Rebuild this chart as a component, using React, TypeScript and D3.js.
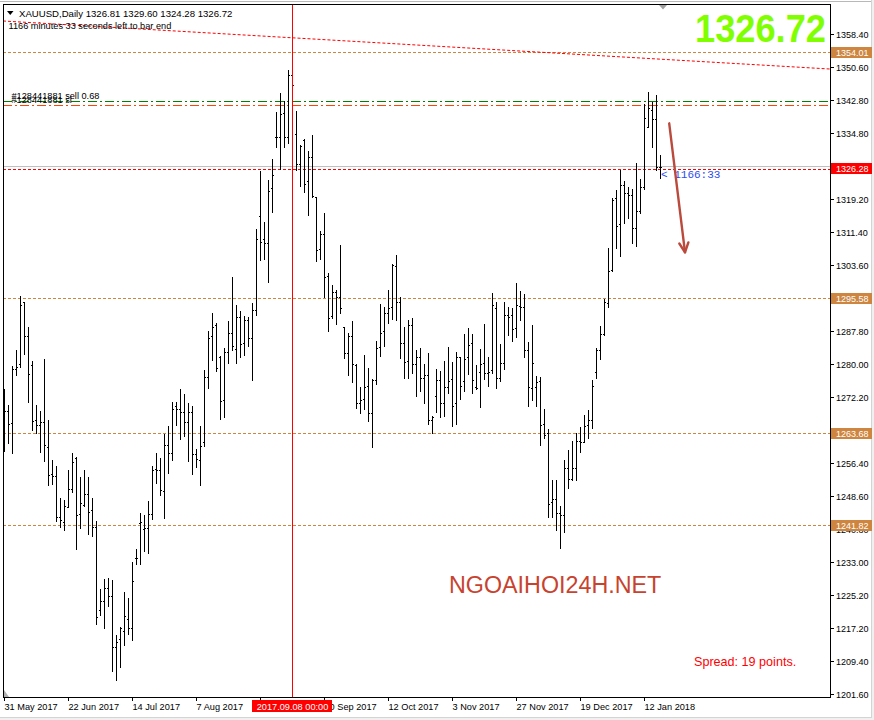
import React from 'react';
import * as d3 from 'd3';

// ---- Daily XAUUSD bars (index 0 = 31 May 2017) ----
const OPEN = [
  1264.71, 1268.75, 1265.98, 1278.73, 1279.92, 1294.65, 1286.57, 1279.76, 1266.69, 1265.43,
  1266.30, 1260.20, 1253.79, 1253.47, 1243.57, 1242.54, 1246.02, 1250.30, 1257.66, 1244.28,
  1246.50, 1249.03, 1245.31, 1241.35, 1221.47, 1223.69, 1226.70, 1224.88, 1212.83, 1214.57,
  1216.63, 1219.33, 1217.19, 1233.82, 1242.14, 1240.79, 1240.95, 1244.27, 1255.05, 1254.89,
  1249.82, 1260.67, 1258.77, 1270.01, 1269.30, 1268.51, 1266.13, 1268.51, 1258.53, 1257.10,
  1261.38, 1276.98, 1286.65, 1289.26, 1281.58, 1271.44, 1282.76, 1287.43, 1283.47, 1291.08,
  1284.90, 1290.45, 1286.17, 1292.82, 1315.16, 1309.61, 1308.66, 1321.80, 1334.00, 1334.00,
  1339.70, 1334.00, 1348.66, 1334.64, 1327.43, 1333.21, 1323.47, 1329.25, 1319.59, 1307.24,
  1310.88, 1300.90, 1291.50, 1297.18, 1296.00, 1288.71, 1282.53, 1286.57, 1279.76, 1270.65,
  1271.60, 1274.85, 1268.28, 1276.20, 1283.96, 1287.92, 1292.04, 1293.62, 1303.28, 1294.81,
  1284.91, 1280.79, 1289.26, 1280.00, 1281.74, 1276.59, 1277.38, 1266.69, 1272.39, 1276.20,
  1270.65, 1274.45, 1276.43, 1270.65, 1281.58, 1275.88, 1281.58, 1284.99, 1274.53, 1278.01,
  1280.15, 1277.78, 1278.57, 1293.22, 1276.59, 1280.15, 1291.64, 1291.64, 1288.47, 1293.78,
  1293.62, 1283.32, 1274.21, 1274.45, 1275.96, 1265.74, 1263.52, 1247.13, 1247.84, 1244.51,
  1244.11, 1255.20, 1252.59, 1255.20, 1261.70, 1261.54, 1265.42, 1266.69, 1278.17, 1283.32,
  1287.04, 1294.57, 1302.33, 1319.51, 1313.26, 1322.52, 1320.54, 1320.15, 1312.38, 1316.34,
  1321.97, 1336.38, 1340.34, 1338.12, 1326.81,
];
const HIGH = [
  1274.06, 1270.26, 1279.52, 1283.33, 1296.16, 1294.81, 1288.71, 1280.71, 1270.26, 1268.83,
  1281.19, 1266.69, 1257.19, 1255.76, 1248.24, 1247.69, 1254.81, 1258.85, 1257.90, 1253.15,
  1254.81, 1253.15, 1248.24, 1242.70, 1226.54, 1228.92, 1229.15, 1228.68, 1215.60, 1217.43,
  1225.74, 1224.40, 1232.95, 1236.04, 1244.51, 1244.04, 1247.44, 1255.76, 1258.77, 1257.66,
  1263.36, 1265.26, 1270.96, 1270.96, 1274.05, 1272.79, 1270.65, 1269.94, 1259.80, 1265.26,
  1278.57, 1287.76, 1292.03, 1289.81, 1281.89, 1283.80, 1290.21, 1300.66, 1294.01, 1292.66,
  1291.39, 1291.24, 1294.40, 1311.99, 1325.85, 1313.65, 1323.71, 1328.70, 1339.94, 1344.30,
  1342.48, 1349.84, 1349.40, 1340.18, 1331.95, 1333.37, 1330.60, 1334.40, 1319.75, 1311.59,
  1315.79, 1301.69, 1298.76, 1297.58, 1308.30, 1288.87, 1287.28, 1290.21, 1280.00, 1274.61,
  1282.14, 1279.13, 1276.35, 1285.46, 1294.25, 1293.62, 1297.58, 1303.76, 1305.90, 1296.00,
  1288.87, 1290.45, 1290.85, 1283.32, 1283.72, 1279.92, 1282.53, 1267.72, 1278.73, 1278.33,
  1280.79, 1284.03, 1280.47, 1282.85, 1281.58, 1287.12, 1288.47, 1287.12, 1279.76, 1283.56,
  1289.50, 1281.58, 1296.86, 1294.73, 1284.75, 1294.65, 1293.54, 1293.30, 1299.24, 1297.34,
  1296.63, 1285.22, 1289.26, 1277.14, 1276.99, 1269.38, 1264.55, 1252.43, 1252.43, 1246.25,
  1257.18, 1259.56, 1261.78, 1263.68, 1265.10, 1267.87, 1269.06, 1276.19, 1283.87, 1289.02,
  1295.36, 1307.63, 1319.35, 1321.33, 1326.09, 1323.55, 1321.97, 1321.57, 1327.67, 1323.87,
  1341.77, 1344.54, 1342.32, 1343.91, 1329.60,
];
const LOW = [
  1259.41, 1261.31, 1258.93, 1277.47, 1279.37, 1282.45, 1271.05, 1264.32, 1263.61, 1259.17,
  1257.03, 1251.33, 1251.57, 1242.77, 1241.19, 1240.64, 1245.94, 1249.67, 1235.96, 1241.11,
  1246.34, 1239.69, 1239.05, 1218.30, 1220.44, 1217.19, 1222.42, 1207.13, 1204.83, 1208.08,
  1213.31, 1215.84, 1214.42, 1232.55, 1232.55, 1235.64, 1235.17, 1243.25, 1251.80, 1248.87,
  1243.40, 1254.17, 1257.18, 1265.58, 1262.25, 1262.81, 1256.95, 1253.94, 1255.60, 1251.32,
  1260.59, 1274.37, 1280.94, 1278.41, 1267.00, 1267.48, 1280.31, 1283.32, 1280.31, 1281.73,
  1282.13, 1284.27, 1276.19, 1291.63, 1304.70, 1304.86, 1299.55, 1316.18, 1331.63, 1326.32,
  1331.47, 1332.42, 1341.00, 1326.08, 1322.36, 1320.78, 1315.39, 1319.75, 1304.46, 1305.02,
  1295.83, 1287.91, 1290.99, 1289.42, 1292.04, 1281.34, 1277.38, 1275.80, 1269.46, 1268.28,
  1269.31, 1266.53, 1260.36, 1275.25, 1281.98, 1284.35, 1289.66, 1290.69, 1290.37, 1281.34,
  1276.75, 1276.59, 1277.78, 1272.47, 1273.58, 1270.81, 1265.66, 1263.68, 1268.51, 1267.48,
  1267.72, 1273.18, 1265.34, 1265.82, 1271.76, 1273.66, 1277.70, 1273.18, 1273.98, 1269.86,
  1276.51, 1274.85, 1277.94, 1274.37, 1275.96, 1278.89, 1286.96, 1285.54, 1286.49, 1290.53,
  1281.74, 1270.10, 1271.52, 1270.10, 1260.83, 1262.49, 1243.72, 1243.72, 1240.55, 1236.35,
  1240.16, 1250.45, 1252.43, 1252.43, 1259.16, 1261.38, 1262.49, 1264.86, 1276.75, 1281.26,
  1286.88, 1293.62, 1302.17, 1307.47, 1305.73, 1313.57, 1314.60, 1308.82, 1308.11, 1315.79,
  1321.49, 1336.38, 1331.63, 1326.09, 1324.28,
];
const CLOSE = [
  1268.75, 1265.66, 1278.73, 1279.37, 1293.94, 1286.57, 1277.55, 1266.46, 1265.43, 1266.30,
  1260.75, 1253.55, 1253.47, 1243.57, 1242.85, 1246.18, 1250.30, 1256.71, 1244.12, 1246.89,
  1249.03, 1244.84, 1241.35, 1219.89, 1223.69, 1226.70, 1224.88, 1212.76, 1213.86, 1217.19,
  1220.12, 1217.19, 1228.43, 1233.82, 1242.53, 1240.95, 1244.27, 1254.89, 1254.89, 1249.98,
  1260.67, 1258.85, 1269.30, 1269.30, 1268.51, 1266.29, 1268.51, 1258.53, 1257.34, 1260.51,
  1276.83, 1286.09, 1288.71, 1279.00, 1271.20, 1282.76, 1287.43, 1284.27, 1291.24, 1284.74,
  1290.45, 1286.17, 1292.82, 1309.60, 1309.05, 1308.66, 1321.09, 1324.82, 1334.00, 1339.39,
  1334.00, 1348.66, 1346.28, 1327.43, 1331.79, 1322.68, 1329.25, 1319.91, 1307.08, 1310.88,
  1300.58, 1291.00, 1297.20, 1296.00, 1293.38, 1282.53, 1286.57, 1280.00, 1270.65, 1271.44,
  1274.61, 1268.28, 1276.20, 1283.72, 1287.28, 1292.04, 1293.22, 1303.52, 1294.81, 1284.91,
  1280.55, 1289.26, 1280.00, 1281.74, 1276.59, 1277.38, 1266.69, 1267.48, 1276.20, 1270.81,
  1274.45, 1275.88, 1269.94, 1281.58, 1274.69, 1281.10, 1284.43, 1276.19, 1274.29, 1279.92,
  1277.78, 1278.09, 1294.01, 1276.59, 1280.15, 1291.64, 1291.08, 1288.31, 1294.01, 1293.54,
  1283.32, 1274.45, 1280.15, 1275.64, 1265.42, 1263.05, 1246.65, 1247.84, 1244.51, 1244.11,
  1255.20, 1252.59, 1255.20, 1261.70, 1261.54, 1265.26, 1266.69, 1274.76, 1283.32, 1287.04,
  1294.80, 1302.17, 1318.96, 1312.86, 1322.52, 1320.54, 1320.15, 1312.38, 1316.34, 1321.97,
  1338.36, 1340.74, 1338.12, 1326.72, 1326.72,
];

// ---- axis labels ----
const PRICE_TICKS = [
  1358.4, 1350.6, 1342.8, 1334.8, 1319.2, 1311.4, 1303.6, 1287.8, 1280.0, 1272.2,
  1256.4, 1248.6, 1240.8, 1233.0, 1225.2, 1217.2, 1209.4, 1201.6,
];
const DATE_BARS = [0, 16, 32, 48, 64, 80, 96, 112, 128, 144, 160];
const DATE_LABELS = [
  '31 May 2017', '22 Jun 2017', '14 Jul 2017', '7 Aug 2017', '29 Aug 2017', '20 Sep 2017',
  '12 Oct 2017', '3 Nov 2017', '27 Nov 2017', '19 Dec 2017', '12 Jan 2018',
];

// ---- levels & annotations ----
const LEVELS = [1354.01, 1295.58, 1263.68, 1241.82];
const SELL_PRICE = 1342.41;
const SL_PRICE = 1341.46;
const BID = 1326.72;
const ALERT_PRICE = 1326.28;
const MARK_BAR = 72;
const MARK_LABEL = '2017.09.08 00:00';
const TREND_BARS = [-0.25, 206.5];
const TREND_PRICES = [1361.49, 1350.08];
const ARROW_BARS = [166.3, 170.25];
const ARROW_PRICES = [1337.18, 1306.53];

const FONT = '"Liberation Sans", Arial, sans-serif';

export default function App() {
  const W = 874;
  const H = 720;
  const left = 3;
  const top = 4;
  const right = 830;
  const bottom = 697;

  const y = d3.scaleLinear().domain([1201.6, 1358.4]).range([694, 34]);
  const x = d3.scaleLinear().domain([0, 1]).range([4, 8]);
  const py = (v: number) => Math.round(y(v));

  const bars = OPEN.map((o, i) => {
    const px = x(i);
    const yh = py(HIGH[i]);
    const yl = py(LOW[i]);
    return (
      <g key={i}>
        <rect x={px} y={yh} width={1} height={Math.max(1, yl - yh + 1)} fill="#000" />
        <rect x={px - 1} y={py(o)} width={1} height={1} fill="#000" />
        <rect x={px + 1} y={py(CLOSE[i])} width={1} height={1} fill="#000" />
      </g>
    );
  });

  const trendLine = d3.line<number>()
    .x((_, i) => x(TREND_BARS[i]))
    .y((p) => y(p))(TREND_PRICES);

  // arrow geometry
  const ax0 = x(ARROW_BARS[0]), ay0 = y(ARROW_PRICES[0]);
  const ax1 = x(ARROW_BARS[1]), ay1 = y(ARROW_PRICES[1]);
  const ang = Math.atan2(ay1 - ay0, ax1 - ax0);
  const hl = 10.5, ha = 0.45;
  const w1 = [ax1 - hl * Math.cos(ang - ha), ay1 - hl * Math.sin(ang - ha)];
  const w2 = [ax1 - hl * Math.cos(ang + ha), ay1 - hl * Math.sin(ang + ha)];
  const arrowColor = '#b94a3c';

  const markX = x(MARK_BAR) + 0.5;

  return (
    <div style={{ position: 'fixed', left: 0, top: 0 }}>
      <svg width={W} height={H} style={{ display: 'block', background: '#fff' }}>
        {/* window border */}
        <rect x={0} y={0} width={W} height={H} fill="#fff" />
        <line x1={0} y1={1.5} x2={W} y2={1.5} stroke="#b8b8b8" />
        <line x1={871.5} y1={0} x2={871.5} y2={718} stroke="#d4d4d4" />
        <line x1={0} y1={717.5} x2={872} y2={717.5} stroke="#d4d4d4" />
        <rect x={0} y={718} width={W} height={2} fill="#f0f0f0" />
        <rect x={872} y={0} width={2} height={H} fill="#f0f0f0" />

        {/* level lines */}
        {LEVELS.map((lv) => (
          <line key={lv} x1={left} x2={right} y1={py(lv) + 0.5} y2={py(lv) + 0.5}
            stroke="#cd853f" strokeDasharray="3,2" shapeRendering="crispEdges" />
        ))}

        {/* bid line & alert line */}
        <line x1={left} x2={right} y1={py(BID) - 1 + 0.5} y2={py(BID) - 1 + 0.5} stroke="#c0c0c0" shapeRendering="crispEdges" />
        <line x1={left} x2={right} y1={py(ALERT_PRICE) + 0.5} y2={py(ALERT_PRICE) + 0.5}
          stroke="#ff0000" strokeDasharray="3,2" shapeRendering="crispEdges" />

        {/* order lines */}
        <line x1={left} x2={right} y1={py(SELL_PRICE) + 0.5} y2={py(SELL_PRICE) + 0.5}
          stroke="#008000" strokeDasharray="9,3,2,3" shapeRendering="crispEdges" />
        <line x1={left} x2={right} y1={py(SL_PRICE) + 0.5} y2={py(SL_PRICE) + 0.5}
          stroke="#ff4500" strokeDasharray="9,3,2,3" shapeRendering="crispEdges" />

        {/* trend line */}
        <path d={trendLine || ''} stroke="#ff0000" strokeDasharray="3,2" fill="none" />

        {/* bars */}
        <g shapeRendering="crispEdges">{bars}</g>

        {/* vertical marker */}
        <line x1={markX} x2={markX} y1={top} y2={bottom} stroke="#ff0000" shapeRendering="crispEdges" />

        {/* order labels */}
        <text x={11.5} y={98.5} fontFamily={FONT} fontSize={9.2} fill="#000">#128441881 sell 0.68</text>
        <text x={11.5} y={102.5} fontFamily={FONT} fontSize={9.2} fill="#000">#128441881 sl</text>

        {/* header */}
        <path d="M7,11 L13.5,11 L10.25,15 Z" fill="#000" />
        <text x={19} y={16.5} fontFamily={FONT} fontSize={9.6} fill="#000">XAUUSD,Daily  1326.81 1329.60 1324.28 1326.72</text>
        <text x={8.5} y={28.5} fontFamily={FONT} fontSize={9.2} fill="#000">1166 minutes 33 seconds left to bar end</text>

        {/* big price */}
        <text x={826} y={41.5} textAnchor="end" fontFamily={FONT} fontWeight="bold" fontSize={38}
          textLength={131} lengthAdjust="spacingAndGlyphs" fill="#80ff00">1326.72</text>

        {/* shift marker */}
        <path d="M659,5 L667,5 L663,9.5 Z" fill="#a0a0a0" />

        {/* countdown */}
        <text x={x(OPEN.length - 1) + 1} y={py(BID) + 11} fontFamily='"Liberation Mono", monospace'
          fontSize={11} fill="#2b4bf0">{'< 1166:33'}</text>

        {/* arrow */}
        <line x1={ax0} y1={ay0} x2={ax1} y2={ay1} stroke={arrowColor} strokeWidth={2.4} strokeLinecap="round" />
        <polyline points={`${w1[0]},${w1[1]} ${ax1},${ay1} ${w2[0]},${w2[1]}`} fill="none"
          stroke={arrowColor} strokeWidth={2.4} strokeLinecap="round" strokeLinejoin="round" />

        {/* watermark + spread */}
        <text x={449} y={592.5} fontFamily={FONT} fontSize={23.3} fill="#c8432f">NGOAIHOI24H.NET</text>
        <text x={694} y={665.5} fontFamily={FONT} fontSize={12.6} fill="#ff0000">Spread: 19 points.</text>

        {/* frame */}
        <g shapeRendering="crispEdges" stroke="#000" fill="none">
          <line x1={left + 0.5} x2={left + 0.5} y1={top} y2={bottom + 1} />
          <line x1={left} x2={right + 1} y1={top + 0.5} y2={top + 0.5} />
          <line x1={right + 0.5} x2={right + 0.5} y1={top} y2={bottom + 1} />
          <line x1={left} x2={right + 1} y1={bottom + 0.5} y2={bottom + 0.5} />
        </g>
        <path d={`M${left + 1},${bottom - 7} L${left + 1},${bottom} L${left + 6},${bottom} Z`} fill="#b0b0b0" />

        {/* right axis */}
        {PRICE_TICKS.map((t) => (
          <g key={t}>
            <line x1={right + 1} x2={right + 4} y1={py(t) + 0.5} y2={py(t) + 0.5} stroke="#000" shapeRendering="crispEdges" />
            <text x={836} y={py(t) + 3.6} fontFamily={FONT} fontSize={9} fill="#000">{t.toFixed(2)}</text>
          </g>
        ))}
        {LEVELS.map((lv) => (
          <g key={'l' + lv}>
            <rect x={831} y={py(lv) - 5} width={41} height={11} fill="#cd853f" />
            <text x={836} y={py(lv) + 4} fontFamily={FONT} fontSize={9} fill="#fff">{lv.toFixed(2)}</text>
          </g>
        ))}
        <rect x={831} y={py(ALERT_PRICE) - 6} width={41} height={11} fill="#ff0000" />
        <text x={836} y={py(ALERT_PRICE) + 3} fontFamily={FONT} fontSize={9} fill="#fff">{ALERT_PRICE.toFixed(2)}</text>

        {/* bottom axis */}
        {DATE_BARS.map((b, i) => (
          <g key={b}>
            <line x1={x(b) + 0.5} x2={x(b) + 0.5} y1={bottom} y2={bottom + 4} stroke="#000" shapeRendering="crispEdges" />
            <text x={x(b) + 0.5} y={709.5} fontFamily={FONT} fontSize={9.2} fill="#000">{DATE_LABELS[i]}</text>
          </g>
        ))}
        <rect x={markX - 40.5} y={700} width={80} height={12} fill="#ff0000" />
        <text x={markX} y={709.5} textAnchor="middle" fontFamily={FONT} fontSize={9.2} fill="#fff">{MARK_LABEL}</text>
      </svg>
    </div>
  );
}
